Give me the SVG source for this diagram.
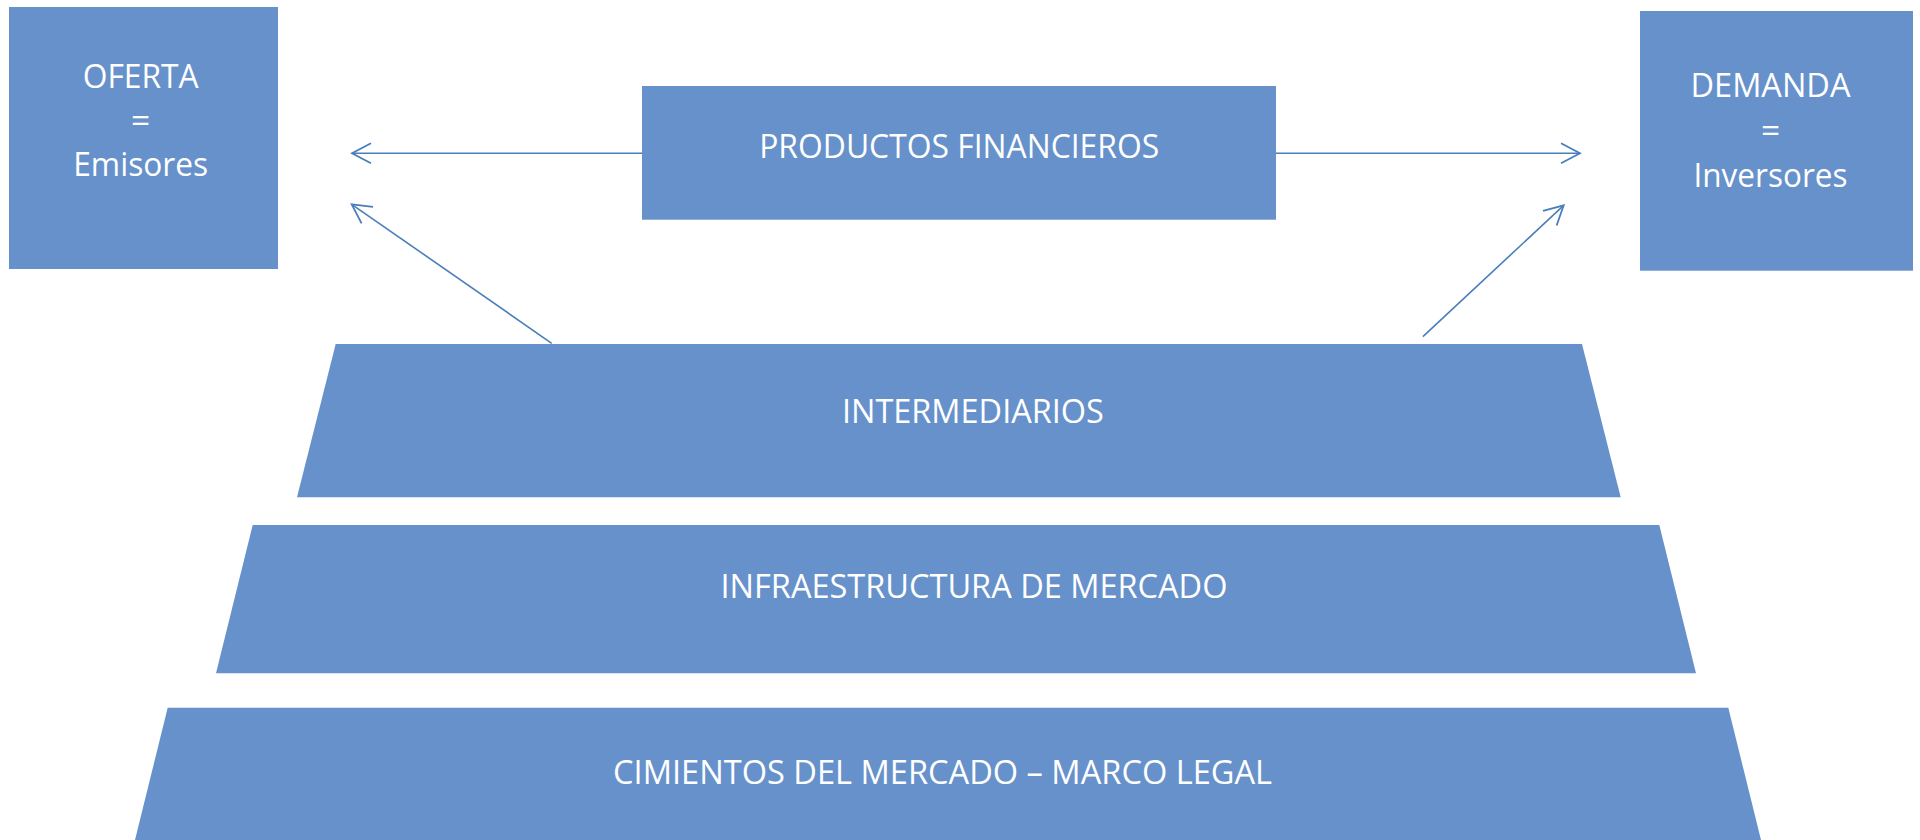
<svg xmlns="http://www.w3.org/2000/svg" width="1920" height="840" viewBox="0 0 1920 840">
  <style>
    .shape { fill: #6691CB; }
    .lbl { fill: #FFFFFF; font-family: "Open Sans", "Noto Sans", "Liberation Sans", sans-serif; font-size: 33.5px; text-anchor: middle; }
    .conn { stroke: #4A7EBB; stroke-width: 1.6; fill: none; marker-end: url(#arrow); }
  </style>
  <defs>
    <marker id="arrow" markerUnits="userSpaceOnUse" markerWidth="30" markerHeight="30" viewBox="-25 -15 30 30" refX="0" refY="0" orient="auto">
      <path d="M -19,-10 L 0,0 L -19,10" fill="none" stroke="#4A7EBB" stroke-width="1.8" stroke-linejoin="miter"/>
    </marker>
  </defs>
  <rect width="1920" height="840" fill="#FFFFFF"/>

  <g id="oferta">
    <rect class="shape" x="9" y="7" width="269" height="262"/>
    <text class="lbl" x="140.7" y="87.7" textLength="116" lengthAdjust="spacingAndGlyphs">OFERTA</text>
    <text class="lbl" x="140.7" y="131.8">=</text>
    <text class="lbl" x="140.7" y="176" textLength="135" lengthAdjust="spacingAndGlyphs">Emisores</text>
  </g>

  <g id="demanda">
    <rect class="shape" x="1640" y="11" width="273" height="259.7"/>
    <text class="lbl" x="1770.5" y="96.7" textLength="160" lengthAdjust="spacingAndGlyphs">DEMANDA</text>
    <text class="lbl" x="1770.5" y="141.7">=</text>
    <text class="lbl" x="1770.5" y="186.7" textLength="154" lengthAdjust="spacingAndGlyphs">Inversores</text>
  </g>

  <g id="productos">
    <rect class="shape" x="642" y="86" width="634" height="133.7"/>
    <text class="lbl" x="959.2" y="157.7" textLength="400" lengthAdjust="spacingAndGlyphs">PRODUCTOS FINANCIEROS</text>
  </g>

  <g id="intermediarios">
    <polygon class="shape" points="335.7,344 1582,344 1620.7,497.3 297,497.3"/>
    <text class="lbl" x="972.9" y="422.7" textLength="262" lengthAdjust="spacingAndGlyphs">INTERMEDIARIOS</text>
  </g>

  <g id="infraestructura">
    <polygon class="shape" points="252.7,525 1659.3,525 1696,673.3 216,673.3"/>
    <text class="lbl" x="974" y="598.3" textLength="507" lengthAdjust="spacingAndGlyphs">INFRAESTRUCTURA DE MERCADO</text>
  </g>

  <g id="cimientos">
    <polygon class="shape" points="167.7,707.7 1728.3,707.7 1761,840 135,840"/>
    <text class="lbl" x="942.6" y="784.3" textLength="659" lengthAdjust="spacingAndGlyphs">CIMIENTOS DEL MERCADO – MARCO LEGAL</text>
  </g>

  <g id="connectors">
    <line class="conn" x1="642" y1="153.3" x2="352" y2="153.3"/>
    <line class="conn" x1="1276" y1="153.3" x2="1580" y2="153.3"/>
    <line class="conn" x1="551.7" y1="343.3" x2="351.7" y2="204.3"/>
    <line class="conn" x1="1422.9" y1="336.7" x2="1563.7" y2="205.3"/>
  </g>
</svg>
